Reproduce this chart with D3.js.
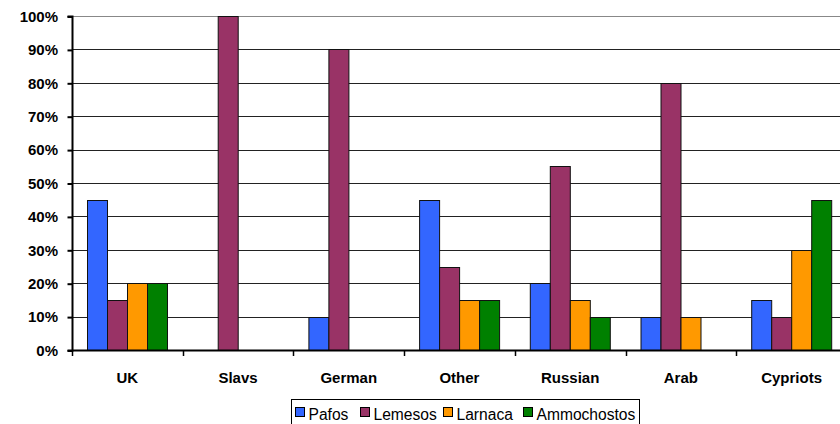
<!DOCTYPE html>
<html>
<head>
<meta charset="utf-8">
<script src="https://cdn.jsdelivr.net/npm/d3@7"></script>
<style>
  body { margin: 0; background: #fff; }
  svg { display: block; font-family: "Liberation Sans", Arial, sans-serif; }
</style>
</head>
<body>
<svg id="chart" width="840" height="424"></svg>
<script>
const categories = ["UK", "Slavs", "German", "Other", "Russian", "Arab", "Cypriots"];
const seriesNames = ["Pafos", "Lemesos", "Larnaca", "Ammochostos"];
const pafos       = [45, 0, 10, 45, 20, 10, 15];
const lemesos     = [15, 100, 90, 25, 55, 80, 10];
const larnaca     = [20, 0, 0, 15, 15, 10, 30];
const ammochostos = [20, 0, 0, 15, 10, 0, 45];
const yTicks = [0, 10, 20, 30, 40, 50, 60, 70, 80, 90, 100];
const colors = ["#3366FF", "#993366", "#FF9900", "#008000"];

const series = [pafos, lemesos, larnaca, ammochostos];
const svg = d3.select("#chart");

const plotLeft = 72, plotTop = 16, plotBottom = 350;
const groupW = 110.7;
const plotRight = plotLeft + groupW * categories.length;

const x = d3.scaleBand().domain(categories).range([plotLeft, plotRight]).paddingInner(0).paddingOuter(0);
const xs = d3.scaleBand().domain(seriesNames).range([15, 15 + 80]);
const y = d3.scaleLinear().domain([0, 100]).range([plotBottom, plotTop]);

// horizontal gridlines
svg.append("g").selectAll("line").data(yTicks.filter(t => t > 0)).join("line")
  .attr("x1", plotLeft).attr("x2", 840)
  .attr("y1", d => Math.round(y(d)) + 0.5).attr("y2", d => Math.round(y(d)) + 0.5)
  .attr("stroke", d => d === 100 ? "#888" : "#222").attr("stroke-width", 1);

// bars
const groups = svg.append("g").selectAll("g").data(categories).join("g")
  .attr("transform", c => `translate(${x(c)},0)`);
groups.selectAll("rect")
  .data((c, i) => series.map((s, k) => ({ name: seriesNames[k], v: s[i], k })).filter(d => d.v > 0))
  .join("rect")
  .attr("x", d => Math.round(xs(d.name)) + 0.5)
  .attr("y", d => Math.round(y(d.v)) + 0.5)
  .attr("width", xs.bandwidth())
  .attr("height", d => Math.round(y(0)) - Math.round(y(d.v)))
  .attr("fill", d => colors[d.k])
  .attr("stroke", "#111").attr("stroke-width", 1);

// y axis
const yAxis = d3.axisLeft(y).tickValues(yTicks).tickSize(5).tickFormat(d => d + "%");
const ya = svg.append("g").attr("transform", `translate(${plotLeft + 0.5},0.5)`).call(yAxis);
ya.select(".domain").attr("stroke", "#000").attr("stroke-width", 2).attr("d", `M-5,${plotTop}H0V${plotBottom}H-5`);
ya.selectAll(".tick line").attr("stroke", "#000").attr("stroke-width", 2);
ya.selectAll(".tick text").attr("x", -14.5).attr("font-size", 15).attr("font-weight", "bold")
  .attr("fill", "#000").attr("font-family", "Liberation Sans, Arial, sans-serif");

// x axis baseline and category ticks
const xa = svg.append("g");
xa.append("line").attr("x1", plotLeft).attr("x2", 840).attr("y1", plotBottom + 0.5).attr("y2", plotBottom + 0.5)
  .attr("stroke", "#000").attr("stroke-width", 2);
xa.selectAll("line.tk").data(d3.range(categories.length + 1)).join("line").attr("class", "tk")
  .attr("x1", i => Math.round(plotLeft + i * groupW) + 0.5).attr("x2", i => Math.round(plotLeft + i * groupW) + 0.5)
  .attr("y1", plotBottom).attr("y2", plotBottom + 6).attr("stroke", "#000").attr("stroke-width", 1.5);
xa.selectAll("text").data(categories).join("text")
  .attr("x", c => x(c) + groupW / 2).attr("y", 382.5)
  .attr("text-anchor", "middle").attr("font-size", 15).attr("font-weight", "bold").text(c => c);

// legend
const lg = svg.append("g").attr("transform", "translate(291.5,399.5)");
lg.append("rect").attr("width", 348).attr("height", 30).attr("fill", "#fff").attr("stroke", "#000");
const lx = [4, 69, 152, 232];
const items = lg.selectAll("g").data(seriesNames).join("g")
  .attr("transform", (d, i) => `translate(${lx[i]},0)`);
items.append("rect").attr("x", 0).attr("y", 8).attr("width", 9).attr("height", 9)
  .attr("fill", (d, i) => colors[i]).attr("stroke", "#000");
items.append("text").attr("x", 13).attr("y", 20.5).attr("font-size", 15.6).text(d => d);
</script>
</body>
</html>
